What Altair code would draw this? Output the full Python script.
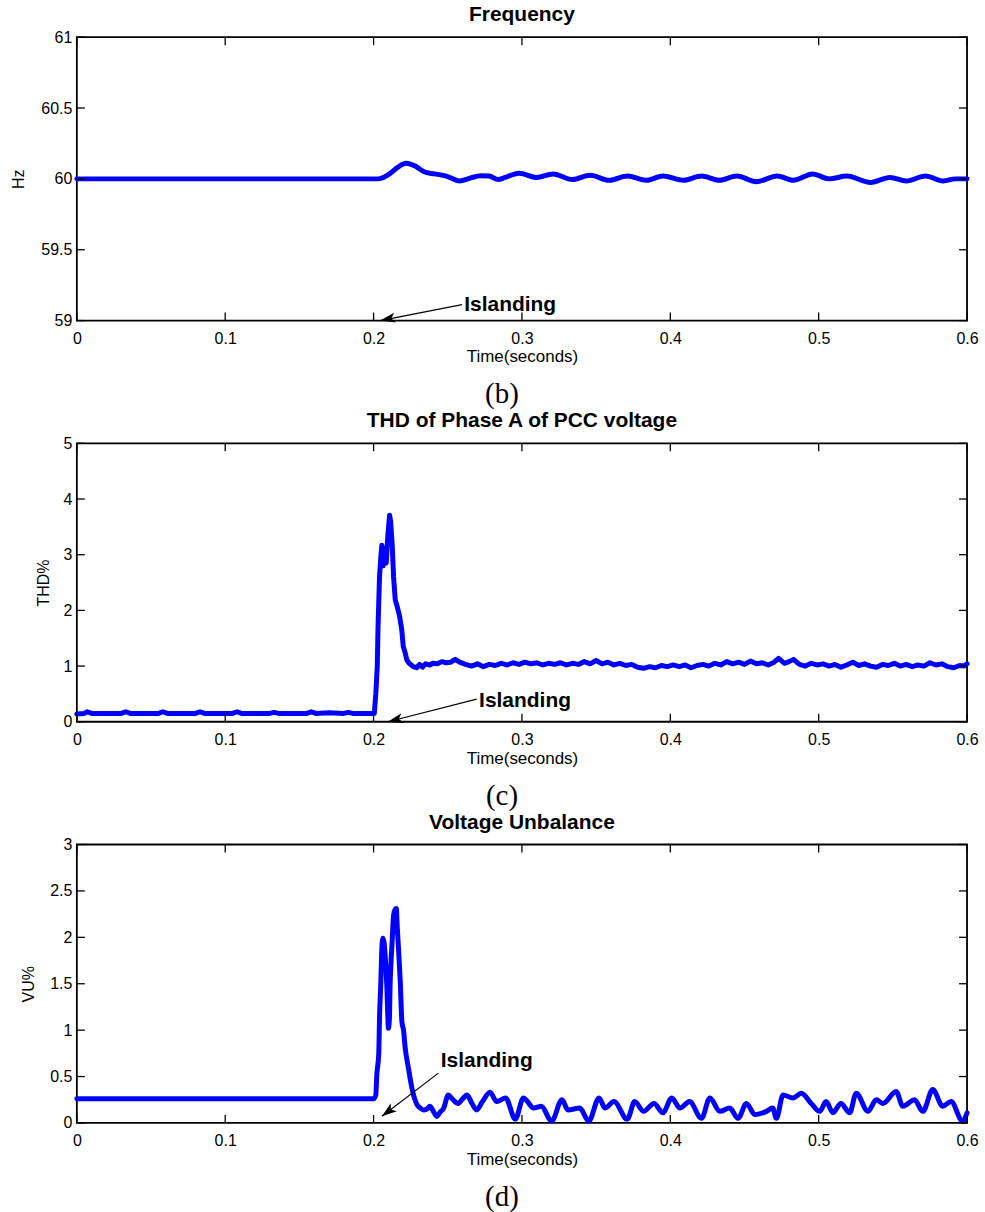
import math
import altair as alt
import pandas as pd

# ---------------- data ----------------
x_ticks = [0, 0.1, 0.2, 0.3, 0.4, 0.5, 0.6]
freq_ticks = [59, 59.5, 60, 60.5, 61]
thd_ticks = [0, 1, 2, 3, 4, 5]
vu_ticks = [0, 0.5, 1, 1.5, 2, 2.5, 3]

freq_t = [0, 0.203, 0.210, 0.216, 0.222, 0.228, 0.234, 0.241, 0.249, 0.258, 0.265, 0.272,
          0.278, 0.284, 0.291, 0.298, 0.310, 0.321, 0.334, 0.346, 0.359, 0.371, 0.384,
          0.395, 0.409, 0.421, 0.433, 0.445, 0.458, 0.472, 0.483, 0.496, 0.507, 0.519,
          0.535, 0.548, 0.559, 0.572, 0.584, 0.592, 0.600]
freq_v = [60, 60, 60.03, 60.08, 60.11, 60.09, 60.05, 60.035, 60.02, 59.985, 60.005, 60.022,
          60.02, 59.995, 60.02, 60.04, 60.01, 60.035, 59.995, 60.025, 59.99, 60.02, 59.99,
          60.02, 59.99, 60.02, 59.99, 60.02, 59.98, 60.02, 59.99, 60.035, 60.0, 60.02,
          59.975, 60.01, 59.985, 60.02, 59.985, 60.0, 60.0]

thd_t = [0, 0.005, 0.007, 0.010, 0.030, 0.033, 0.036, 0.055, 0.058, 0.061, 0.080, 0.083,
         0.086, 0.105, 0.108, 0.111, 0.130, 0.133, 0.136, 0.155, 0.158, 0.161, 0.170,
         0.180, 0.183, 0.186, 0.2005,
         0.2015, 0.2025, 0.2030, 0.2040, 0.2050, 0.2056, 0.2065, 0.2075, 0.2085, 0.2095,
         0.2108, 0.2115, 0.2125, 0.2135, 0.2146, 0.2160, 0.2175, 0.2190, 0.2200, 0.2212,
         0.2224, 0.2240, 0.2268, 0.2290, 0.2310, 0.2330, 0.2350, 0.2380, 0.2400, 0.2430,
         0.2460, 0.2490, 0.2520, 0.2550, 0.2580,
         0.262, 0.266, 0.270, 0.274, 0.278, 0.282, 0.286, 0.290, 0.294, 0.298, 0.302,
         0.306, 0.310, 0.314, 0.318, 0.322, 0.326, 0.330, 0.334, 0.338, 0.342, 0.346,
         0.350, 0.354, 0.358, 0.362, 0.366, 0.370, 0.374, 0.378, 0.382, 0.386, 0.390,
         0.394, 0.398, 0.402, 0.406, 0.410, 0.414, 0.418, 0.422, 0.426, 0.430, 0.434,
         0.438, 0.442, 0.446, 0.450, 0.454, 0.458, 0.462, 0.466, 0.470, 0.473, 0.477,
         0.480, 0.483, 0.487, 0.491, 0.495, 0.499, 0.503, 0.507, 0.511, 0.515, 0.519,
         0.523, 0.527, 0.531, 0.535, 0.539, 0.543, 0.547, 0.551, 0.555, 0.559, 0.563,
         0.567, 0.571, 0.575, 0.579, 0.583, 0.587, 0.591, 0.595, 0.598, 0.600]
thd_v = [0.14, 0.15, 0.18, 0.15, 0.15, 0.18, 0.15, 0.15, 0.18, 0.15, 0.15, 0.18,
         0.15, 0.15, 0.18, 0.15, 0.15, 0.17, 0.15, 0.15, 0.18, 0.15, 0.16,
         0.15, 0.17, 0.15, 0.15,
         0.50, 1.00, 1.70, 2.60, 3.00, 3.17, 2.80, 3.10, 2.85, 3.30,
         3.71, 3.60, 3.20, 2.60, 2.19, 2.06, 1.90, 1.65, 1.35, 1.25,
         1.11, 1.05, 0.99, 0.97, 1.03, 0.98, 1.04, 1.02, 1.05, 1.04,
         1.08, 1.06, 1.07, 1.12, 1.07,
         1.03, 1.00, 1.04, 0.99, 1.03, 1.01, 1.05, 1.02, 1.06, 1.03, 1.07,
         1.04, 1.06, 1.02, 1.05, 1.03, 1.06, 1.02, 1.05, 1.03, 1.08, 1.04,
         1.10, 1.04, 1.07, 1.02, 1.05, 1.01, 1.03, 0.98, 0.96, 0.99, 0.97,
         1.01, 0.99, 1.02, 0.99, 1.02, 0.97, 1.01, 1.03, 1.00, 1.05, 1.02,
         1.08, 1.04, 1.07, 1.03, 1.09, 1.04, 1.06, 1.02, 1.07, 1.14, 1.05,
         1.08, 1.12, 1.03, 1.00, 1.05, 1.02, 1.04, 1.00, 1.03, 0.98, 1.02,
         1.07, 1.01, 1.04, 1.00, 0.98, 1.03, 1.01, 1.05, 1.00, 1.03, 0.99,
         1.02, 1.00, 1.06, 1.02, 1.04, 0.99, 0.97, 1.01, 1.00, 1.04]

vu_t = [0, 0.2000, 0.2015, 0.2022, 0.2035, 0.2040, 0.2049, 0.2055, 0.2063, 0.2070, 0.2078,
        0.2090, 0.2095, 0.2100, 0.2106, 0.2112, 0.2118, 0.2124, 0.2135, 0.2145, 0.2153,
        0.2160, 0.2168, 0.2180, 0.2191, 0.2202, 0.2213, 0.2235, 0.2258, 0.2275, 0.2292,
        0.2315, 0.2336, 0.2360, 0.2380, 0.2405, 0.2426, 0.2450, 0.2470, 0.2504, 0.2530,
        0.2570, 0.2600, 0.2630, 0.2660, 0.2695, 0.2730, 0.2785, 0.2830, 0.2890, 0.2955,
        0.3010, 0.3080, 0.3130, 0.3200, 0.3270, 0.3310, 0.3390, 0.3450, 0.3520, 0.3560,
        0.3620, 0.3710, 0.3760, 0.3820, 0.3890, 0.3950, 0.4010, 0.4065, 0.4130, 0.4210,
        0.4267, 0.4334, 0.4400, 0.4457, 0.4513, 0.4570, 0.4648, 0.4690, 0.4715, 0.4760,
        0.4827, 0.4883, 0.4950, 0.5007, 0.5050, 0.5096, 0.5150, 0.5209, 0.5253, 0.5332,
        0.5388, 0.5433, 0.5522, 0.5567, 0.5646, 0.5702, 0.5769, 0.5836, 0.5892, 0.5970,
        0.6000]
vu_v = [0.26, 0.26, 0.30, 0.52, 0.75, 1.13, 1.52, 1.85, 1.99, 1.95, 1.81,
        1.45, 1.20, 1.02, 1.10, 1.52, 1.75, 1.92, 2.24, 2.30, 2.31,
        2.10, 1.88, 1.52, 1.09, 1.00, 0.81, 0.59, 0.38, 0.27, 0.20,
        0.16, 0.14, 0.15, 0.18, 0.12, 0.07, 0.12, 0.15, 0.30, 0.26,
        0.21, 0.26, 0.30, 0.22, 0.14, 0.22, 0.33, 0.23, 0.27, 0.04,
        0.27, 0.16, 0.18, 0.02, 0.25, 0.14, 0.16, 0.02, 0.27, 0.16,
        0.23, 0.04, 0.23, 0.125, 0.21, 0.11, 0.27, 0.16, 0.23, 0.05,
        0.27, 0.125, 0.16, 0.05, 0.21, 0.09, 0.125, 0.16, 0.05, 0.30,
        0.27, 0.32, 0.21, 0.125, 0.23, 0.11, 0.21, 0.11, 0.32, 0.125,
        0.25, 0.21, 0.34, 0.18, 0.25, 0.125, 0.36, 0.18, 0.23, 0.02,
        0.11]

# annotation: [text x, text y, arrow tail x, tail y, arrow head x, head y]
freq_ann = [0.2611, 59.111, 0.2596, 59.113, 0.2045, 59.0]
thd_ann = [0.2711, 0.38, 0.2695, 0.407, 0.2097, 0.0]
vu_ann = [0.2453, 0.668, 0.2437, 0.537, 0.2056, 0.072]

# ---------------- styling ----------------
SANS = "Liberation Sans"
SERIF = "Liberation Serif"
W = 892
ARROW = "M0,0 L0.6,1.8 L0,1.35 L-0.6,1.8 Z"


def panel(title, ylab, t, v, ydom, yticks, H, ann, sub, ytitle_x, interp):
    xs = alt.Scale(domain=[0, 0.6], nice=False, zero=False)
    ys = alt.Scale(domain=ydom, nice=False, zero=False)
    xaxis = alt.Axis(
        values=x_ticks, format="~f", title="Time(seconds)",
        labelFont=SANS, labelFontSize=16, labelColor="black", labelPadding=10,
        labelFlush=False, ticks=False, tickSize=0, domain=False, grid=False,
        titleFont=SANS, titleFontSize=17, titleFontWeight="normal", titleColor="black",
        titleBaseline="alphabetic", titleY=41.5)
    yaxis = alt.Axis(
        values=yticks, format="~f", title=ylab,
        labelFont=SANS, labelFontSize=16, labelColor="black", labelPadding=5,
        labelFlush=False, ticks=False, tickSize=0, domain=False, grid=False,
        titleFont=SANS, titleFontSize=16, titleFontWeight="normal", titleColor="black",
        titleAngle=270, titleBaseline="alphabetic", titleX=ytitle_x)

    def X(f):
        return alt.X(f, type="quantitative", scale=xs, axis=xaxis)

    def Y(f):
        return alt.Y(f, type="quantitative", scale=ys, axis=yaxis)

    df = pd.DataFrame({"t": t, "v": v})
    line = alt.Chart(df).mark_line(
        color="#0000FF", strokeWidth=5, strokeJoin="round", strokeCap="round",
        interpolate=interp,
    ).encode(x=X("t"), y=Y("v"))

    xt = pd.DataFrame({"t": x_ticks})
    yt = pd.DataFrame({"v": yticks})
    tick_style = dict(color="black", strokeWidth=1.3)
    xb = alt.Chart(xt).mark_rule(**tick_style).encode(
        x=X("t"), y=alt.value(H), y2=alt.value(H - 8))
    xtp = alt.Chart(xt).mark_rule(**tick_style).encode(
        x=X("t"), y=alt.value(0), y2=alt.value(8))
    yl = alt.Chart(yt).mark_rule(**tick_style).encode(
        y=Y("v"), x=alt.value(0), x2=alt.value(8))
    yr = alt.Chart(yt).mark_rule(**tick_style).encode(
        y=Y("v"), x=alt.value(W), x2=alt.value(W - 8))

    adf = pd.DataFrame({"tx": [ann[0]], "ty": [ann[1]], "x1": [ann[2]], "y1": [ann[3]],
                        "x2": [ann[4]], "y2": [ann[5]], "label": ["Islanding"]})
    dx = (ann[4] - ann[2]) / 0.6 * W
    dy = -(ann[5] - ann[3]) / (ydom[1] - ydom[0]) * H
    ang = math.degrees(math.atan2(dx, -dy)) % 360

    arrow = alt.Chart(adf).mark_rule(color="black", strokeWidth=1.2).encode(
        x=X("x1"), x2="x2:Q", y=Y("y1"), y2="y2:Q")
    head = alt.Chart(adf).mark_point(
        shape=ARROW, filled=True, size=280, angle=ang, color="black", opacity=1,
        strokeWidth=0).encode(x=X("x2"), y=Y("y2"))
    label = alt.Chart(adf).mark_text(
        align="left", baseline="middle", font=SANS, fontSize=21, fontWeight="bold",
        color="black").encode(x=X("tx"), y=Y("ty"), text="label:N")

    subl = alt.Chart(pd.DataFrame({"s": [sub]})).mark_text(
        font=SERIF, fontSize=29, align="center", baseline="alphabetic", color="black"
    ).encode(x=alt.value(426), y=alt.value(H + 83), text="s:N")

    return alt.layer(line, xb, xtp, yl, yr, arrow, head, label, subl).properties(
        width=W, height=H,
        title=alt.TitleParams(text=title, font=SANS, fontSize=21, fontWeight="bold",
                              color="black", baseline="top", offset=4,
                              anchor="middle"),
    )


p1 = panel("Frequency", "Hz", freq_t, freq_v, [59, 61], freq_ticks, 284, freq_ann,
           "(b)", -53, "monotone")
p2 = panel("THD of Phase A of PCC voltage", "THD%", thd_t, thd_v, [0, 5], thd_ticks,
           279, thd_ann, "(c)", -28, "linear")
p3 = panel("Voltage Unbalance", "VU%", vu_t, vu_v, [0, 3], vu_ticks, 279, vu_ann,
           "(d)", -43, "monotone")

chart = alt.vconcat(p1, p2, p3, spacing=123, bounds="flush").properties(
    padding={"left": 10, "top": 2, "right": 5, "bottom": 2},
    background="white",
).configure_view(stroke="black", strokeWidth=1.8)

chart.save("out.html", embed_options={"renderer": "svg", "actions": False})
